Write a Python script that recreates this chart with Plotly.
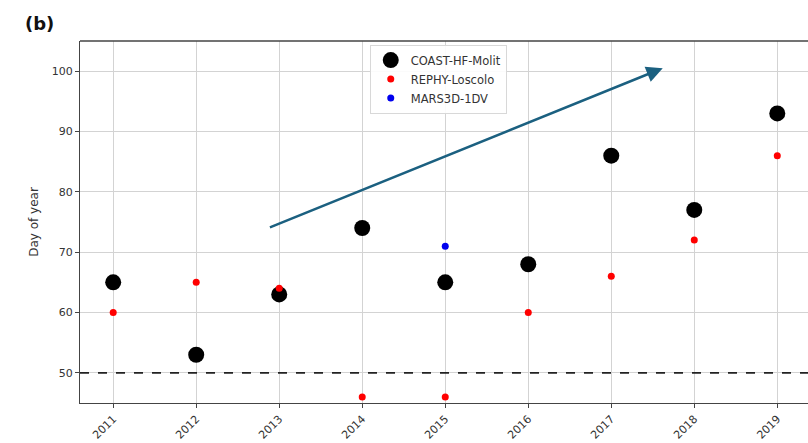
import plotly.graph_objects as go

years = [2011, 2012, 2013, 2014, 2015, 2016, 2017, 2018, 2019]
coast_hf_molit = [65, 53, 63, 74, 65, 68, 86, 77, 93]
rephy_loscolo = [60, 65, 64, 46, 46, 60, 66, 72, 86]
mars3d_years = [2015]
mars3d_1dv = [71]

threshold_day = 50
trend_start = (2012.87, 74.0)
trend_end = (2017.62, 100.5)

fig = go.Figure()
fig.add_trace(go.Scatter(
    x=years, y=coast_hf_molit, mode="markers", name="COAST-HF-Molit",
    marker=dict(color="black", size=16),
))
fig.add_trace(go.Scatter(
    x=years, y=rephy_loscolo, mode="markers", name="REPHY-Loscolo",
    marker=dict(color="#ff0000", size=7),
))
fig.add_trace(go.Scatter(
    x=mars3d_years, y=mars3d_1dv, mode="markers", name="MARS3D-1DV",
    marker=dict(color="#0000ee", size=7),
))

# horizontal reference at day 50
fig.add_shape(type="line", xref="paper", x0=0, x1=1, yref="y",
              y0=threshold_day, y1=threshold_day,
              line=dict(color="#222222", width=1.6, dash="dash"))

# top frame edge
fig.add_shape(type="line", xref="paper", x0=0, x1=1, yref="paper",
              y0=1, y1=1, line=dict(color="#444444", width=1.3))

# trend arrow
fig.add_annotation(
    x=trend_end[0], y=trend_end[1], ax=trend_start[0], ay=trend_start[1],
    xref="x", yref="y", axref="x", ayref="y", text="",
    showarrow=True, arrowhead=2, arrowsize=1.3, arrowwidth=2.5,
    arrowcolor="#1b6080",
)

fig.update_layout(
    width=808, height=443,
    margin=dict(l=80, r=0, t=41, b=40),
    paper_bgcolor="white", plot_bgcolor="white",
    font=dict(family="DejaVu Sans", size=11, color="#333333"),
    showlegend=True,
    legend=dict(
        x=0.398, y=0.99, xanchor="left", yanchor="top",
        bgcolor="rgba(255,255,255,0.9)", bordercolor="#d8d8d8", borderwidth=1,
        font=dict(size=11.5, color="#333333"), itemsizing="trace",
        tracegroupgap=0,
    ),
    xaxis=dict(
        range=[2010.6, 2019.37], tickmode="array", tickvals=years,
        ticktext=[str(y) for y in years], tickangle=-45,
        showgrid=True, gridcolor="#d3d3d3", gridwidth=1,
        showline=True, linecolor="#444444", linewidth=1.3, mirror=False,
        ticks="outside", ticklen=4, tickcolor="#444444",
        zeroline=False, tickfont=dict(size=11),
    ),
    yaxis=dict(
        range=[45, 105], tickvals=[50, 60, 70, 80, 90, 100],
        showgrid=True, gridcolor="#d3d3d3", gridwidth=1,
        showline=True, linecolor="#444444", linewidth=1.3,
        ticks="outside", ticklen=4, tickcolor="#444444",
        zeroline=False, tickfont=dict(size=11),
        title=dict(text="Day of year", standoff=10, font=dict(size=12)),
    ),
)

fig.add_annotation(
    x=-0.078, y=1.015, xref="paper", yref="paper", xanchor="left",
    yanchor="bottom", text="<b>(b)</b>", showarrow=False,
    font=dict(size=18, color="#111111"),
)

fig.write_html("out.html", config={"displayModeBar": False})
